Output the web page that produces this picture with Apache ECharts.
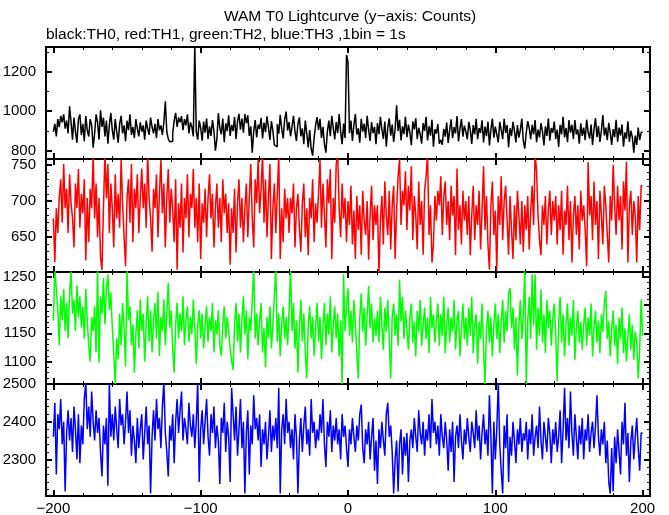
<!DOCTYPE html>
<html>
<head>
<meta charset="utf-8">
<script src="https://cdn.jsdelivr.net/npm/echarts@6.0.0/dist/echarts.min.js"></script>
<style>
html,body{margin:0;padding:0;background:#fff;}
#chart{width:669px;height:515px;}
</style>
</head>
<body>
<div id="chart"></div>
<script>
// ---- Data (1 bin = 1 s, bins from -200 s to +200 s) ----
const timeStart = -200;
const th0 = [
896,936,872,960,920,976,944,984,912,952,888,1025,944,856,968,896,840,960,984,880,
936,848,976,904,872,960,928,815,888,984,944,856,1005,920,968,872,952,835,928,992,
904,856,960,896,840,936,976,888,928,848,952,904,984,880,920,864,960,912,872,944,
896,928,856,952,912,880,968,920,888,936,864,960,904,928,880,944,1050,896,860,845,
848,888,952,992,920,968,944,975,904,960,928,984,888,944,920,872,1340,896,856,952,
915,851,947,891,963,860,923,875,955,899,800,859,990,915,883,963,843,939,899,979,
875,931,899,971,859,947,987,907,963,891,985,939,979,875,923,790,899,955,867,931,
910,966,862,942,894,974,918,854,950,902,830,820,934,886,982,910,862,958,998,902,
945,873,921,977,897,849,937,969,873,913,833,953,889,817,905,810,775,865,929,970,
905,961,865,921,833,790,897,953,873,977,913,857,945,889,985,897,833,937,865,1285,
1250,889,953,849,929,985,881,913,841,961,897,937,865,977,905,849,945,889,921,833,
940,884,972,908,860,948,820,916,964,876,932,844,908,1030,900,956,852,924,884,972,
868,932,892,828,948,908,964,860,916,884,836,940,900,972,852,924,876,956,820,908,
887,935,835,855,830,911,871,943,839,903,959,863,919,887,975,847,911,960,871,927,
898,858,946,906,834,930,882,962,858,914,890,954,842,922,874,946,826,906,962,866,
922,882,842,946,906,858,962,890,930,818,914,874,946,898,842,930,866,906,962,850,
810,891,950,915,859,931,883,955,843,907,867,939,899,827,923,875,963,851,915,891,
947,859,907,819,931,883,971,867,915,843,955,891,931,859,955,883,907,835,939,875,
917,853,957,893,861,933,829,909,965,869,925,845,901,981,877,917,853,941,893,829,
909,869,957,845,917,877,933,821,893,861,949,845,901,869,790,877,829,917,853,893,
893];
const th1 = [
676,616,690,656,704,730,670,751,690,717,656,737,697,676,636,724,690,744,663,710,
683,730,618,704,643,717,690,765,676,724,650,704,622,605,690,765,704,751,656,724,
690,636,737,676,710,663,757,697,650,610,704,730,670,751,643,717,690,737,656,704,
745,690,724,663,765,704,676,630,717,690,737,650,710,757,683,724,636,704,744,670,
717,690,643,730,605,697,663,724,629,704,676,737,650,710,690,744,663,704,643,724,
620,697,670,717,650,704,737,676,710,636,690,724,663,704,643,730,683,710,656,697,
612,690,656,717,629,697,730,663,704,643,690,724,650,704,751,676,636,730,697,757,
683,717,765,670,730,650,704,751,620,690,724,656,710,765,620,690,643,717,676,704,
656,704,683,724,636,690,710,663,630,697,724,650,690,625,704,676,730,643,697,670,
710,757,663,724,683,636,730,697,744,620,704,670,751,765,690,650,724,676,704,643,
700,667,721,640,687,620,707,660,694,626,714,673,653,700,619,680,721,646,694,667,
694,600,673,707,640,727,680,653,714,633,694,721,620,687,734,758,667,714,694,741,
660,721,687,748,646,707,680,633,727,667,700,626,714,734,765,653,694,615,640,707,
673,714,694,734,653,707,727,667,700,646,721,680,707,625,745,660,694,640,714,673,
700,653,707,625,680,721,646,694,667,714,633,687,748,660,707,640,605,694,727,653,
687,605,707,667,734,646,700,721,673,626,707,660,620,694,646,714,680,640,700,630,
694,660,707,633,687,721,667,765,741,680,646,625,694,667,707,640,687,714,653,700,
673,707,640,694,660,714,626,687,667,721,646,700,615,680,707,653,694,633,714,673,
694,660,610,754,680,707,646,727,667,700,620,714,680,640,721,694,653,615,707,673,
750,694,653,721,673,707,633,727,687,754,615,694,714,653,700,680,615,707,660,721,
721];
const th2 = [
1173,1265,1229,1191,1129,1216,1173,1229,1154,1204,1141,1223,1260,1185,1210,1154,1235,1179,1216,1160,
1198,1141,1229,1173,1129,1100,1179,1154,1198,1116,1265,1098,1216,1185,1248,1166,1229,1255,1191,1223,
1160,1116,1060,1141,1104,1185,1129,1204,1160,1091,1265,1173,1198,1129,1166,1080,1148,1191,1123,1210,
1154,1185,1100,1166,1216,1135,1191,1116,1173,1204,1141,1223,1110,1179,1154,1210,1129,1185,1240,1160,
1191,1123,1080,1166,1204,1141,1185,1154,1216,1129,1173,1198,1135,1179,1148,1210,1160,1095,1166,1191,
1141,1185,1123,1166,1198,1135,1179,1154,1204,1116,1173,1148,1191,1129,1110,1166,1198,1141,1179,1154,
1123,1100,1085,1166,1204,1135,1185,1116,1173,1216,1148,1191,1104,1179,1154,1210,1265,1141,1185,1129,
1173,1204,1116,1160,1090,1179,1141,1198,1123,1166,1216,1265,1135,1185,1110,1166,1198,1141,1179,1129,
1191,1265,1154,1204,1123,1173,1080,1160,1210,1135,1185,1116,1070,1166,1198,1141,1179,1110,1160,1204,
1135,1179,1104,1160,1204,1129,1185,1148,1216,1116,1166,1198,1141,1185,1110,1173,1060,1255,1154,1198,
1230,1146,1190,1134,1209,1165,1115,1070,1178,1221,1153,1196,1128,1184,1234,1159,1203,1134,1178,1146,
1190,1134,1215,1165,1121,1196,1153,1209,1140,1070,1178,1203,1146,1184,1128,1245,1171,1215,1140,1190,
1159,1121,1178,1203,1134,1171,1109,1190,1153,1209,1128,1165,1196,1140,1178,1115,1215,1159,1184,1134,
1171,1203,1128,1184,1146,1215,1115,1165,1196,1134,1178,1153,1209,1121,1171,1190,1109,1159,1203,1140,
1178,1128,1196,1146,1215,1115,1165,1184,1096,1171,1140,1203,1121,1060,1159,1190,1134,1178,1109,1165,
1203,1140,1184,1115,1171,1209,1134,1190,1153,1221,1230,1159,1196,1121,1178,1075,1165,1209,1140,1184,
1265,1060,1171,1215,1140,1255,1165,1255,1121,1196,1146,1228,1134,1184,1115,1209,1159,1190,1128,1178,
1203,1146,1065,1171,1215,1134,1184,1109,1165,1203,1128,1178,1146,1209,1103,1159,1190,1134,1171,1121,
1165,1196,1128,1178,1146,1203,1109,1159,1190,1134,1171,1115,1184,1153,1203,1225,1140,1171,1109,1159,
1190,1128,1165,1096,1178,1140,1196,1115,1159,1100,1146,1184,1121,1165,1103,1153,1134,1070,1121,1210,
1146];
const th3 = [
2360,2450,2260,2420,2380,2460,2340,2400,2215,2370,2430,2350,2410,2320,2440,2380,2300,2420,2290,2390,
2340,2460,2505,2380,2440,2360,2480,2400,2350,2430,2370,2410,2320,2255,2390,2340,2410,2230,2505,2360,
2420,2350,2440,2380,2330,2460,2390,2420,2340,2400,2480,2370,2430,2310,2390,2350,2290,2410,2330,2380,
2420,2300,2370,2440,2340,2390,2210,2360,2430,2350,2460,2380,2410,2330,2440,2505,2370,2320,2255,2390,
2350,2420,2290,2400,2460,2370,2430,2480,2350,2410,2380,2340,2450,2390,2360,2420,2330,2400,2505,2240,
2380,2430,2340,2400,2460,2360,2310,2420,2370,2440,2330,2390,2350,2235,2410,2370,2450,2320,2400,2360,
2240,2490,2420,2350,2440,2310,2380,2460,2330,2400,2210,2370,2430,2260,2390,2340,2470,2380,2410,2350,
2420,2280,2380,2340,2400,2300,2360,2430,2320,2390,2350,2410,2330,2490,2210,2380,2420,2340,2460,2370,
2400,2330,2380,2300,2420,2360,2210,2350,2410,2320,2390,2440,2340,2380,2310,2460,2370,2400,2330,2380,
2350,2420,2370,2460,2340,2280,2400,2360,2430,2320,2390,2350,2410,2340,2380,2300,2420,2360,2390,2330,
2280,2380,2340,2410,2360,2320,2390,2350,2420,2445,2330,2290,2380,2340,2400,2300,2360,2410,2270,2350,
2235,2380,2330,2400,2350,2310,2420,2450,2360,2390,2320,2210,2300,2350,2215,2340,2380,2260,2360,2310,
2370,2240,2350,2380,2330,2410,2360,2320,2430,2370,2340,2400,2310,2380,2350,2420,2330,2460,2370,2400,
2340,2390,2310,2420,2360,2330,2400,2350,2270,2380,2320,2400,2240,2360,2390,2330,2420,2350,2300,2380,
2340,2410,2360,2320,2400,2370,2330,2430,2350,2390,2300,2370,2420,2340,2380,2310,2470,2360,2210,2400,
2300,2380,2505,2340,2270,2210,2390,2330,2420,2240,2360,2310,2400,2350,2290,2380,2340,2410,2320,2370,
2350,2400,2300,2380,2340,2420,2310,2360,2390,2330,2440,2350,2300,2400,2360,2320,2410,2370,2290,2380,
2340,2400,2320,2360,2430,2290,2380,2490,2350,2410,2330,2480,2370,2310,2420,2360,2300,2390,2340,2410,
2300,2380,2350,2420,2320,2370,2400,2330,2390,2470,2360,2310,2380,2340,2400,2290,2350,2240,2210,2330,
2215,2360,2290,2380,2320,2260,2400,2340,2450,2310,2370,2240,2350,2390,2300,2360,2410,2330,2270,2370,
2370];

const seriesNames = ['TH0', 'TH1', 'TH2', 'TH3'];
const seriesValues = [th0, th1, th2, th3];
const xTickLabels = [-200, -100, 0, 100, 200];
const yTickLabels = [[800, 1000, 1200], [650, 700, 750], [1100, 1150, 1200, 1250], [2300, 2400, 2500]];
const titleText = 'WAM T0 Lightcurve (y\u2212axis: Counts)';
const subtitleText = 'black:TH0, red:TH1, green:TH2, blue:TH3 ,1bin = 1s';

// ---- Layout / style ----
const FONT = 'Liberation Sans';
const colors = ['#000000', '#ff0000', '#00ff00', '#0000ff'];
const gridBoxes = [[47, 112], [159, 113], [272, 112], [384, 112]];
const yMin = [758, 602, 1060, 2203];
const yMax = [1325, 758, 1259, 2500];
const yMinorStep = [100, 10, 10, 20];
const xMin = -205, xMax = 205, xMinorStep = 20;

seriesValues.forEach((a, i) => { if (a.length !== 401) throw new Error(seriesNames[i] + ' length ' + a.length); });

function stepList(lo, hi, step) {
  const out = [];
  for (let v = Math.ceil(lo / step) * step; v <= hi + 1e-9; v += step) out.push(v);
  return out;
}
const fmt = v => String(v).replace('-', '\u2212');

const grids = [], xAxes = [], yAxes = [], series = [];
gridBoxes.forEach((b, g) => {
  grids.push({ left: 46, right: 19, top: b[0], height: b[1], show: false, containLabel: false, outerBoundsMode: 'none' });
  const xMinor = stepList(xMin, xMax, xMinorStep);
  ['bottom', 'top'].forEach(pos => {
    ['major', 'minor'].forEach(kind => {
      const major = kind === 'major';
      xAxes.push({
        type: 'value', gridIndex: g, position: pos, min: xMin, max: xMax,
        axisLine: { show: major, onZero: false, lineStyle: { color: '#000', width: 2 } },
        axisTick: { show: true, inside: true, length: major ? 6 : 3, customValues: major ? xTickLabels : xMinor,
                    lineStyle: { color: '#000', width: major ? 2 : 1 } },
        axisLabel: { show: major && pos === 'bottom' && g === 3, customValues: xTickLabels, formatter: fmt,
                     color: '#000', fontFamily: FONT, fontSize: 15, margin: 5 },
        splitLine: { show: false }
      });
    });
  });
  const yMinor = stepList(yMin[g], yMax[g], yMinorStep[g]);
  ['left', 'right'].forEach(pos => {
    ['major', 'minor'].forEach(kind => {
      const major = kind === 'major';
      yAxes.push({
        type: 'value', gridIndex: g, position: pos, min: yMin[g], max: yMax[g],
        axisLine: { show: major, onZero: false, lineStyle: { color: '#000', width: 2 } },
        axisTick: { show: true, inside: true, length: major ? 6 : 3, customValues: major ? yTickLabels[g] : yMinor,
                    lineStyle: { color: '#000', width: major ? 2 : 1 } },
        axisLabel: { show: major && pos === 'left', customValues: yTickLabels[g], formatter: fmt,
                     color: '#000', fontFamily: FONT, fontSize: 15, margin: 10 },
        splitLine: { show: false }
      });
    });
  });
  series.push({
    name: seriesNames[g], type: 'line', step: 'end', showSymbol: false, clip: true,
    xAxisIndex: g * 4, yAxisIndex: g * 4,
    lineStyle: { color: colors[g], width: 1.5 },
    data: seriesValues[g].map((v, i) => [timeStart + i, v])
  });
});

const chart = echarts.init(document.getElementById('chart'), null, { renderer: 'canvas' });
chart.setOption({
  animation: false,
  backgroundColor: '#ffffff',
  title: [
    { text: titleText, left: 350, top: 9, textAlign: 'center', padding: 0,
      textStyle: { fontFamily: FONT, fontSize: 15.5, fontWeight: 'normal', color: '#000' } },
    { text: subtitleText, left: 46, top: 27, padding: 0,
      textStyle: { fontFamily: FONT, fontSize: 15.5, fontWeight: 'normal', color: '#000' } }
  ],
  grid: grids,
  xAxis: xAxes,
  yAxis: yAxes,
  series: series
});
</script>
</body>
</html>
